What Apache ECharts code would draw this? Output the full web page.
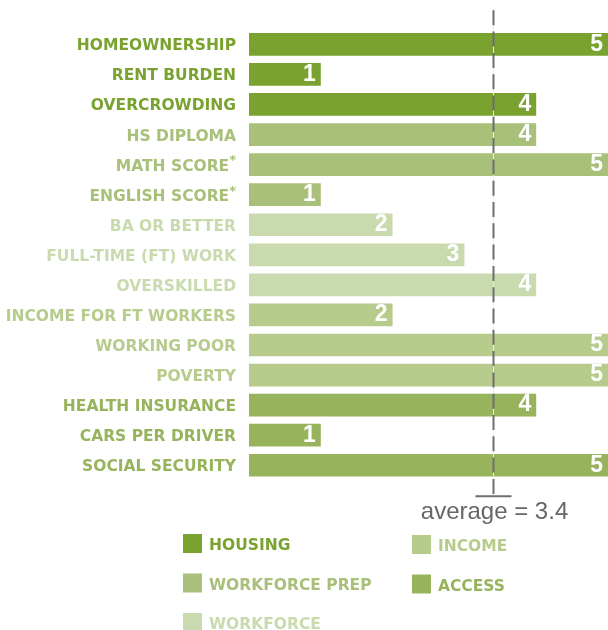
<!DOCTYPE html>
<html>
<head>
<meta charset="utf-8">
<script src="https://cdn.jsdelivr.net/npm/echarts@6/dist/echarts.min.js"></script>
<style>
html,body{margin:0;padding:0;background:#fff;}
#c{width:608px;height:630px;}
</style>
</head>
<body>
<div id="c"></div>
<script>
// ---- data ----
const categories = ['HOMEOWNERSHIP','RENT BURDEN','OVERCROWDING','HS DIPLOMA','MATH SCORE','ENGLISH SCORE','BA OR BETTER','FULL-TIME (FT) WORK','OVERSKILLED','INCOME FOR FT WORKERS','WORKING POOR','POVERTY','HEALTH INSURANCE','CARS PER DRIVER','SOCIAL SECURITY'];
const values = [5,1,4,4,5,1,2,3,4,2,5,5,4,1,5];
const groupOf = ['HOUSING','HOUSING','HOUSING','WORKFORCE PREP','WORKFORCE PREP','WORKFORCE PREP','WORKFORCE','WORKFORCE','WORKFORCE','INCOME','INCOME','INCOME','ACCESS','ACCESS','ACCESS'];
const starred = ['MATH SCORE','ENGLISH SCORE'];
const groups = ['HOUSING','WORKFORCE PREP','WORKFORCE','INCOME','ACCESS'];
const groupColors = ['#79a22f','#a8c07a','#c9daaf','#b6cb8c','#97b45c'];
const legendCol1 = ['HOUSING','WORKFORCE PREP','WORKFORCE'];
const legendCol2 = ['INCOME','ACCESS'];

const avg = Math.round(values.reduce((a,b)=>a+b,0)/values.length*10)/10;
const colorOf = g => groupColors[groups.indexOf(g)];
const FONT = 'DejaVu Sans';

const rich = {};
const legendRich = {};
groups.forEach((g,i)=>{
  rich['g'+i] = {color: groupColors[i], fontFamily: FONT, fontWeight:'bold', fontSize:15.5, padding:[4,0,0,0]};
  rich['s'+i] = {color: groupColors[i], fontFamily: FONT, fontWeight:'bold', fontSize:13, padding:[0,0,7,0]};
  legendRich['l'+i] = {color: groupColors[i], fontFamily: FONT, fontWeight:'bold', fontSize:15.5, padding:[5,0,0,2]};
});

const series = groups.map((g,gi)=>({
  name: g,
  type: 'bar',
  stack: 'all',
  barWidth: 22.7,
  itemStyle: {color: groupColors[gi]},
  label: {show:true, position:'insideRight', distance:5, color:'#fff', fontSize:23, fontWeight:'bold', fontFamily:'Liberation Sans'},
  emphasis: {disabled:true},
  data: values.map((v,i)=> groupOf[i]===g ? v : '-')
}));

series.push({
  type: 'custom',
  silent: true,
  z: 10,
  data: [[avg, 0]],
  encode: {x:0, y:1},
  renderItem: function(params, api){
    const x = Math.round(api.coord([api.value(0), 0])[0]) + 0.5;
    const cs = params.coordSys;
    const top = cs.y - 19;
    const bottom = cs.y + cs.height + 16;
    return {type:'group', children:[
      {type:'line', shape:{x1:x,y1:top-2,x2:x,y2:bottom}, style:{stroke:'#eef3cf', lineWidth:1}},
      {type:'line', shape:{x1:x,y1:top,x2:x,y2:bottom}, style:{stroke:'#6e6e6e', lineWidth:2, lineDash:[15,6.3]}},
      {type:'line', shape:{x1:x-18,y1:bottom,x2:x+18,y2:bottom}, style:{stroke:'#6e6e6e', lineWidth:2}},
      {type:'text', x:x+1, y:bottom+16, style:{text:'average = '+avg, fill:'#666', font:'24px "Liberation Sans"', align:'center', verticalAlign:'middle'}}
    ]};
  }
});

const legendBase = {
  orient:'vertical', icon:'rect', itemWidth:19, itemHeight:19, itemGap:19.5,
  padding:0, height:120, selectedMode:false,
  formatter: function(name){ return '{l'+groups.indexOf(name)+'|'+name+'}'; },
  textStyle:{fontFamily:FONT, fontWeight:'bold', fontSize:15.5, rich: legendRich}
};

const chart = echarts.init(document.getElementById('c'), null, {renderer:'canvas'});
chart.setOption({
  animation:false,
  backgroundColor:'#fff',
  grid:{left:249, top:29.3, width:362, height:451, containLabel:false},
  xAxis:{type:'value', min:0, max:5, show:false},
  yAxis:{
    type:'category', inverse:true, data:categories,
    axisLine:{show:false}, axisTick:{show:false}, splitLine:{show:false},
    axisLabel:{
      margin:13,
      rich: rich,
      formatter: function(v, i){
        const gi = groups.indexOf(groupOf[i]);
        let s = '{g'+gi+'|'+v+'}';
        if (starred.indexOf(v) >= 0) s += '{s'+gi+'|*}';
        return s;
      }
    }
  },
  legend:[
    Object.assign({}, legendBase, {left:183, top:534, data: legendCol1}),
    Object.assign({}, legendBase, {left:412, top:535, data: legendCol2})
  ],
  series: series
});
</script>
</body>
</html>
